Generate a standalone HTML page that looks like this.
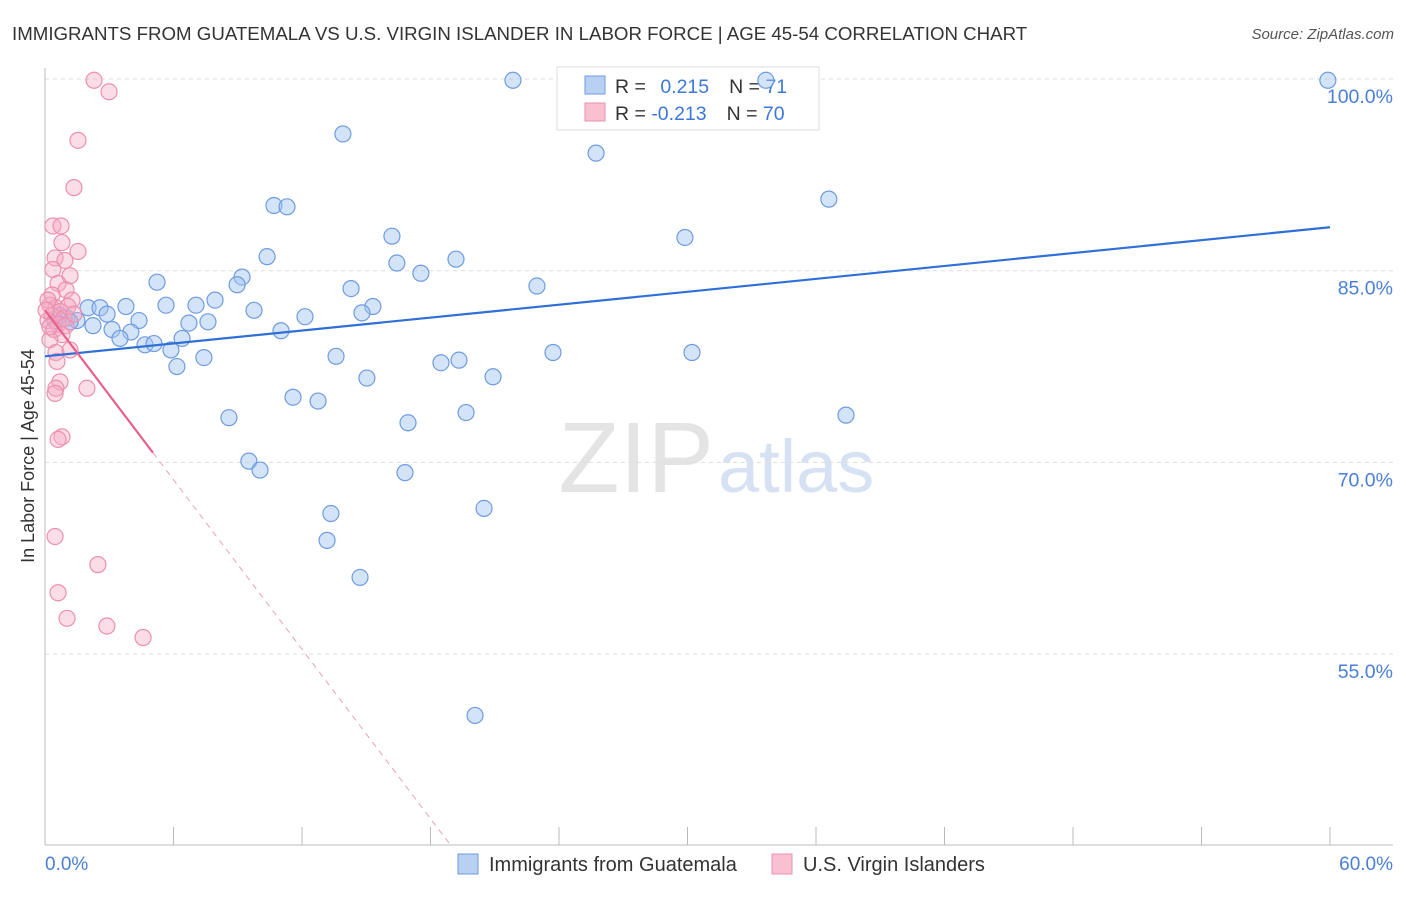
<!DOCTYPE html>
<html><head><meta charset="utf-8"><style>
body{margin:0;background:#fff;font-family:"Liberation Sans",sans-serif;}
svg text{font-family:"Liberation Sans",sans-serif;}
</style></head><body>
<svg id="c" width="1406" height="892" viewBox="0 0 1406 892" xmlns="http://www.w3.org/2000/svg">
<text x="12" y="40" font-size="18.7" fill="#333">IMMIGRANTS FROM GUATEMALA VS U.S. VIRGIN ISLANDER IN LABOR FORCE | AGE 45-54 CORRELATION CHART</text>
<text x="1394" y="39" font-size="15" fill="#555" font-style="italic" text-anchor="end">Source: ZipAtlas.com</text>
<text x="714" y="492" font-size="100" fill="#e4e4e4" text-anchor="end" font-family="Liberation Serif">ZIP</text>
<text x="718" y="492" font-size="74" fill="#d6e2f3">atlas</text>
<g id="grid"></g><g id="axes"></g>
<g>
<rect x="557" y="67" width="262" height="63" fill="#fff" stroke="#ddd"/>
<rect x="585" y="76" width="20" height="18" fill="#b8d0f2" stroke="#6f9be0"/>
<rect x="585" y="103" width="20" height="18" fill="#f9c0d2" stroke="#ec8fb0"/>
<text x="615" y="93" font-size="19.5" fill="#333">R = <tspan fill="#3b78d8" dx="9">0.215</tspan><tspan dx="20" fill="#333">N = </tspan><tspan fill="#3b78d8">71</tspan></text>
<text x="615" y="120" font-size="19.5" fill="#333">R = <tspan fill="#3b78d8">-0.213</tspan><tspan dx="20" fill="#333">N = </tspan><tspan fill="#3b78d8">70</tspan></text>
</g>
<g id="pts"></g><g id="trends"></g>
<text transform="translate(34,456) rotate(-90)" font-size="18" fill="#333" text-anchor="middle">In Labor Force | Age 45-54</text>
<text x="45" y="870" font-size="19" fill="#4a7fd4">0.0%</text>
<text x="1393" y="870" font-size="19" fill="#4a7fd4" text-anchor="end">60.0%</text>
<g>
<rect x="458" y="854" width="20" height="20" fill="#b8d0f2" stroke="#6f9be0"/>
<text x="489" y="871" font-size="20" fill="#333">Immigrants from Guatemala</text>
<rect x="772" y="854" width="20" height="20" fill="#f9c0d2" stroke="#ec8fb0"/>
<text x="803" y="871" font-size="20" fill="#333">U.S. Virgin Islanders</text>
</g>
</svg>
<script>
const yTicks=[100,85,70,55];
const yTickLabels=["100.0%","85.0%","70.0%","55.0%"];
const xTicks=[0,6,12,18,24,30,36,42,48,54,60];
const blueX=[21.85,33.66,59.9,13.91,25.73,36.6,10.69,11.3,16.2,29.88,10.37,16.43,19.19,17.55,5.23,9.2,8.97,22.97,14.29,7.94,5.65,7.05,15.31,2.01,2.57,3.78,9.76,14.8,12.14,2.9,1.03,1.49,4.39,6.72,7.61,2.24,3.13,4.01,11.02,3.5,6.4,4.67,5.09,5.88,7.42,13.59,23.72,30.21,18.49,19.33,6.16,15.03,20.92,11.58,12.75,8.59,19.66,37.4,16.95,9.52,10.04,16.81,13.35,20.5,13.17,14.71,20.08,0.7,0.47,1.17];
const blueY=[99.9,99.9,99.9,95.7,94.2,90.6,90.1,90.0,87.7,87.6,86.1,85.6,85.9,84.8,84.1,84.5,83.9,83.8,83.6,82.7,82.3,82.3,82.2,82.1,82.1,82.2,81.9,81.7,81.4,81.6,81.3,81.1,81.1,80.9,81.0,80.7,80.4,80.2,80.3,79.7,79.7,79.2,79.3,78.8,78.2,78.3,78.6,78.6,77.8,78.0,77.5,76.6,76.7,75.1,74.8,73.5,73.9,73.7,73.1,70.1,69.4,69.2,66.0,66.4,63.9,61.0,50.2,81.5,81.1,81.0];
const pinkX=[2.29,2.99,1.54,1.35,0.37,0.75,0.79,1.54,0.47,0.93,0.37,1.17,0.61,0.98,0.33,1.26,0.23,0.51,0.7,0.33,0.89,0.14,0.61,0.98,0.42,0.79,0.23,0.51,1.17,0.56,0.7,0.51,1.96,0.47,0.79,0.61,0.47,2.47,0.61,1.03,2.89,4.58,0.14,0.05,1.07,1.35,0.23];
const pinkY=[99.9,99.0,95.2,91.5,88.5,88.5,87.2,86.5,86.0,85.8,85.1,84.6,84.0,83.5,83.1,82.7,82.3,82.1,81.8,81.5,81.3,81.1,80.8,80.7,80.4,80.0,79.6,78.6,78.8,77.9,76.3,75.8,75.8,75.4,72.0,71.8,64.2,62.0,59.8,57.8,57.2,56.3,82.7,81.9,82.2,81.6,80.6];
const blueTrend=[78.3,88.4];
const pinkTrend=[81.9,-2.21,5.04];
const NS="http://www.w3.org/2000/svg";
const X0=45,X1=1330,YT=79,PX15=191.7;
function sx(v){return X0+(v/60)*(X1-X0);}
function sy(v){return YT+(100-v)*PX15/15;}
function mk(tag,attrs,parent){const e=document.createElementNS(NS,tag);for(const k in attrs)e.setAttribute(k,attrs[k]);document.getElementById(parent).appendChild(e);return e;}
yTicks.forEach((t,i)=>{
 const l=mk('line',{x1:45,x2:1393,y1:sy(t),y2:sy(t),stroke:'#ddd','stroke-dasharray':'4,4'},'grid');
 
 
 const tx=mk('text',{x:1393,y:sy(t)+24,'font-size':19.5,fill:'#4a7fd4','text-anchor':'end'},'grid');
 tx.textContent=yTickLabels[i];
 
 
});
const ya=mk('line',{x1:45,x2:45,y1:68,y2:845,stroke:'#bbb'},'axes');


const xa=mk('line',{x1:45,x2:1393,y1:845,y2:845,stroke:'#bbb'},'axes');


xTicks.forEach(t=>{
 const l=mk('line',{x1:sx(t),x2:sx(t),y1:827,y2:845,stroke:'#bbb'},'axes');
 
 
});
blueX.forEach((v,i)=>{
 const c=mk('circle',{cx:sx(v),cy:sy(blueY[i]),r:8,fill:'rgba(160,196,240,0.45)',stroke:'#6f9be0','stroke-width':1.2},'pts');
 
 
});
pinkX.forEach((v,i)=>{
 const c=mk('circle',{cx:sx(v),cy:sy(pinkY[i]),r:8,fill:'rgba(245,170,195,0.4)',stroke:'#ec8fb0','stroke-width':1.2},'pts');
 
 
});
const bt=mk('line',{x1:sx(0),y1:sy(blueTrend[0]),x2:sx(60),y2:sy(blueTrend[1]),stroke:'#2f6fd6','stroke-width':2.2},'trends');


const pe=pinkTrend[2];
const pt=mk('line',{x1:sx(0),y1:sy(pinkTrend[0]),x2:sx(pe),y2:sy(pinkTrend[0]+pinkTrend[1]*pe),stroke:'#e8608e','stroke-width':2.2},'trends');


const yb=40.06, xe=(yb-pinkTrend[0])/pinkTrend[1];
const pd=mk('line',{x1:sx(pe),y1:sy(pinkTrend[0]+pinkTrend[1]*pe),x2:sx(xe),y2:sy(yb),stroke:'#eba0b8','stroke-width':1,'stroke-dasharray':'6,5'},'trends');


</script>
</body></html>
